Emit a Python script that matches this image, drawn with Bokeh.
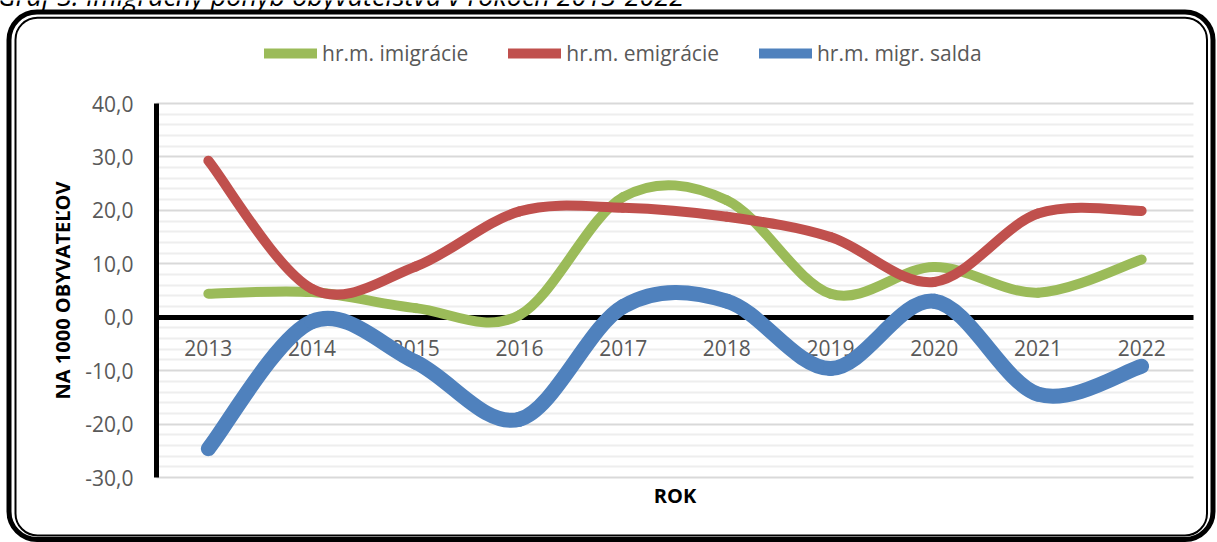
from bokeh.plotting import figure
from bokeh.models import (FixedTicker, LinearAxis, Legend, LegendItem, BoxAnnotation,
                          Label, ColumnDataSource, Range1d)
from bokeh.embed import file_html
from bokeh.resources import INLINE

# ---------------- data ----------------
years = [2013, 2014, 2015, 2016, 2017, 2018, 2019, 2020, 2021, 2022]
imigracie = [4.4, 4.7, 1.7, 0.4, 22.5, 21.9, 4.4, 9.4, 4.6, 10.8]
emigracie = [29.3, 5.3, 9.5, 19.8, 20.5, 18.8, 15.0, 6.6, 19.4, 19.9]
saldo = [-24.6, -0.8, -8.4, -19.1, 2.0, 3.0, -9.6, 3.0, -14.4, -9.2]
series_names = ["hr.m. imigrácie", "hr.m. emigrácie", "hr.m. migr. salda"]
y_ticks = [-30, -20, -10, 0, 10, 20, 30, 40]
y_tick_labels = ["-30,0", "-20,0", "-10,0", "0,0", "10,0", "20,0", "30,0", "40,0"]
title_text = "Graf 3: Imigračný pohyb obyvateľstva v rokoch 2013-2022"

FONT = "Open Sans"
GREEN, RED, BLUE = "#9BBB59", "#C0504D", "#4F81BD"

# ---------------- layout (pixels) ----------------
W, H = 1217, 542
PL, PR, PT, PB = 156, 1193, 103, 477          # plot area inside the canvas
n = len(years)
ymin, ymax = y_ticks[0], y_ticks[-1]
xu = n / (PR - PL)                              # data units per px
yu = (ymax - ymin) / (PB - PT)
x_range = Range1d(-0.5 - PL * xu, n - 0.5 + (W - PR) * xu)
y_range = Range1d(ymin - (H - PB) * yu, ymax + PT * yu)


def smooth_segments(vals):
    """Excel-like smoothed line: Catmull-Rom converted to cubic Bezier segments."""
    m = len(vals)
    xs = list(range(m))
    d = dict(x0=[], y0=[], x1=[], y1=[], cx0=[], cy0=[], cx1=[], cy1=[])
    for i in range(m - 1):
        a, b = max(i - 1, 0), min(i + 2, m - 1)
        d["x0"].append(xs[i]); d["y0"].append(vals[i])
        d["x1"].append(xs[i + 1]); d["y1"].append(vals[i + 1])
        d["cx0"].append(xs[i] + (xs[i + 1] - xs[a]) / 6)
        d["cy0"].append(vals[i] + (vals[i + 1] - vals[a]) / 6)
        d["cx1"].append(xs[i + 1] - (xs[b] - xs[i]) / 6)
        d["cy1"].append(vals[i + 1] - (vals[b] - vals[i]) / 6)
    return ColumnDataSource(d)


p = figure(width=W, height=H, output_backend="svg", toolbar_location=None,
           x_range=x_range, y_range=y_range, min_border=0, outline_line_color=None)
p.title.visible = False
p.background_fill_color = "white"
p.border_fill_color = "white"

# ---------------- y axis / grid ----------------
ya = p.yaxis[0]
ya.fixed_location = -0.5
ya.bounds = (ymin, ymax)
ya.ticker = FixedTicker(ticks=y_ticks,
                        minor_ticks=[v for v in range(ymin, ymax + 1, 2) if v % 10 != 0])
ya.major_label_overrides = {t: l for t, l in zip(y_ticks, y_tick_labels)}
ya.axis_line_color = "black"
ya.axis_line_width = 5
ya.major_tick_line_color = None
ya.minor_tick_line_color = None
ya.major_label_text_font = FONT
ya.major_label_text_font_size = "21px"
ya.major_label_text_color = "#595959"
ya.major_label_standoff = 17
ya.axis_label = "NA 1000 OBYVATEĽOV"
ya.axis_label_text_font = FONT
ya.axis_label_text_font_style = "bold"
ya.axis_label_text_font_size = "20px"
ya.axis_label_text_color = "black"
ya.axis_label_standoff = 6

p.ygrid.grid_line_color = "#D9D9D9"
p.ygrid.grid_line_width = 2
p.ygrid.minor_grid_line_color = "#EEEEEE"
p.ygrid.minor_grid_line_width = 2
p.ygrid.cross_bounds = (-0.5, n - 0.5)
p.xgrid.visible = False

# ---------------- x axis at zero ----------------
xa = p.xaxis[0]
xa.fixed_location = 0
xa.bounds = (-0.5, n - 0.5)
xa.ticker = FixedTicker(ticks=list(range(n)))
xa.major_label_overrides = {i: str(y) for i, y in enumerate(years)}
xa.axis_line_color = "black"
xa.axis_line_width = 5
xa.major_tick_line_color = None
xa.minor_tick_line_color = None
xa.major_label_text_font = FONT
xa.major_label_text_font_size = "21px"
xa.major_label_text_color = "#595959"
xa.major_label_standoff = 17

rok = LinearAxis(fixed_location=ymin, bounds=(-0.5, n - 0.5),
                 ticker=FixedTicker(ticks=[]), axis_label="ROK",
                 axis_line_color=None, major_tick_line_color=None,
                 minor_tick_line_color=None, axis_label_text_font=FONT,
                 axis_label_text_font_style="bold", axis_label_text_font_size="20px",
                 axis_label_text_color="black", axis_label_standoff=4)
p.add_layout(rok, "below")

# ---------------- series ----------------
for vals, col, w in [(imigracie, GREEN, 10), (emigracie, RED, 10), (saldo, BLUE, 15)]:
    r = p.bezier(x0="x0", y0="y0", x1="x1", y1="y1", cx0="cx0", cy0="cy0",
                 cx1="cx1", cy1="cy1", source=smooth_segments(vals),
                 line_color=col, line_width=w, line_cap="round")
    r.level = "annotation"

# legend proxies
proxies = []
for col in [GREEN, RED, BLUE]:
    proxies.append(p.line(x=[float("nan")], y=[float("nan")], line_color=col,
                          line_width=10, line_cap="round"))
legend = Legend(items=[LegendItem(label=nm, renderers=[r]) for nm, r in zip(series_names, proxies)],
                orientation="horizontal", location=(264, 475), glyph_width=53,
                glyph_height=20, label_standoff=5, spacing=40, padding=0, margin=0,
                border_line_color=None, background_fill_alpha=0,
                label_text_font=FONT, label_text_font_size="21px",
                label_text_color="#595959")
p.add_layout(legend)

# ---------------- border + cut title ----------------
outer = BoxAnnotation(left=8.5, right=1212.5, top=11.5, bottom=539,
                      left_units="canvas", right_units="canvas",
                      top_units="canvas", bottom_units="canvas",
                      fill_color=None, fill_alpha=0, line_color="black",
                      line_alpha=1.0, line_width=5, border_radius=28, level="overlay")
inner = BoxAnnotation(left=15, right=1206.5, top=17.2, bottom=535,
                      left_units="canvas", right_units="canvas",
                      top_units="canvas", bottom_units="canvas",
                      fill_color=None, fill_alpha=0, line_color="black",
                      line_alpha=1.0, line_width=2, border_radius=22, level="overlay")
p.add_layout(outer)
p.add_layout(inner)

title = Label(x=-3, y=-5, x_units="canvas", y_units="canvas", text=title_text,
              text_font=FONT, text_font_style="italic", text_font_size="27px",
              text_color="black", text_baseline="alphabetic")
p.add_layout(title)

open("out.html", "w").write(file_html(p, INLINE))
